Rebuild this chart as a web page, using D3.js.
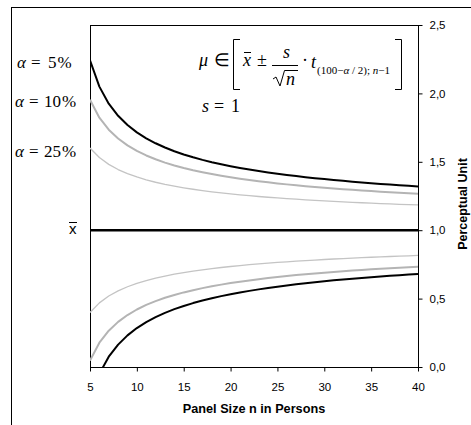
<!DOCTYPE html>
<html>
<head>
<meta charset="utf-8">
<script src="https://cdn.jsdelivr.net/npm/d3@7"></script>
<style>
  html, body { margin: 0; padding: 0; background: #fff; }
  svg { display: block; }
  .tick text { font-family: "Liberation Sans", Arial, sans-serif; font-size: 11.5px; fill: #000; }
  .tick line { stroke: #000; }
  .serif { font-family: "Liberation Serif", "Times New Roman", serif; fill: #000; }
</style>
</head>
<body>
<script>
// ---- data -------------------------------------------------------------
const panelSizes = [5,6,7,8,9,10,11,12,13,14,15,16,17,18,19,20,21,22,23,24,25,26,27,28,29,30,31,32,33,34,35,36,37,38,39,40];
// half-widths of the interval (s = 1) per panel size
const halfWidth5 = [1.2415,1.0496,0.9249,0.8362,0.7687,0.7153,0.6718,0.6354,0.6043,0.5773,0.5538,0.5328,0.5142,0.4973,0.4820,0.4680,0.4552,0.4435,0.4325,0.4223,0.4128,0.4040,0.3957,0.3878,0.3803,0.3734,0.3667,0.3606,0.3546,0.3490,0.3435,0.3383,0.3334,0.3287,0.3241,0.3199];
const halfWidth10 = [0.9535,0.8226,0.7344,0.6700,0.6200,0.5796,0.5463,0.5185,0.4942,0.4733,0.4547,0.4383,0.4235,0.4101,0.3978,0.3866,0.3764,0.3669,0.3580,0.3499,0.3422,0.3350,0.3283,0.3218,0.3159,0.3102,0.3048,0.2998,0.2949,0.2902,0.2858,0.2817,0.2775,0.2737,0.2700,0.2664];
const halfWidth25 = [0.6011,0.5311,0.4811,0.4434,0.4133,0.3890,0.3682,0.3505,0.3353,0.3218,0.3098,0.2993,0.2896,0.2807,0.2728,0.2654,0.2586,0.2522,0.2465,0.2409,0.2358,0.2310,0.2265,0.2222,0.2182,0.2143,0.2107,0.2072,0.2038,0.2008,0.1978,0.1948,0.1922,0.1895,0.1870,0.1845];
const meanValue = 1.0;
const xTicks = [5,10,15,20,25,30,35,40];
const yTicks = [0,0.5,1.0,1.5,2.0,2.5];
const xTitle = "Panel Size n in Persons";
const yTitle = "Perceptual Unit";
const alphaLabels = ["5", "10", "25"];

// ---- layout -----------------------------------------------------------
const W = 471, H = 425;
const plot = { left: 90, right: 418, top: 25, bottom: 367 };

const svg = d3.select("body").append("svg").attr("width", W).attr("height", H);

// outer border (runs off right and bottom edges)
svg.append("rect").attr("x", 11.5).attr("y", 7.5).attr("width", 600).attr("height", 600)
  .attr("fill", "none").attr("stroke", "#000").attr("stroke-width", 1);

const x = d3.scaleLinear().domain([5, 40]).range([plot.left, plot.right]);
const y = d3.scaleLinear().domain([0, 2.5]).range([plot.bottom, plot.top]);

svg.append("defs").append("clipPath").attr("id", "clip")
  .append("rect").attr("x", plot.left).attr("y", plot.top)
  .attr("width", plot.right - plot.left).attr("height", plot.bottom - plot.top);

// frame
svg.append("rect").attr("x", plot.left + 0.5).attr("y", plot.top + 0.5)
  .attr("width", plot.right - plot.left).attr("height", plot.bottom - plot.top)
  .attr("fill", "none").attr("stroke", "#000").attr("stroke-width", 1);

// axes
const fmt = d => d3.format(".1f")(d).replace(".", ",");
const yAxis = svg.append("g").attr("transform", `translate(${plot.right + 0.5},0)`)
  .call(d3.axisRight(y).tickValues(yTicks).tickSize(4).tickPadding(7).tickFormat(fmt));
yAxis.select(".domain").remove();
const xAxis = svg.append("g").attr("transform", `translate(0,${plot.bottom + 0.5})`)
  .call(d3.axisBottom(x).tickValues(xTicks).tickSizeInner(4).tickSizeOuter(0).tickPadding(11).tickFormat(d3.format("d")));
xAxis.select(".domain").remove();

// lines
const g = svg.append("g").attr("clip-path", "url(#clip)");
const line = d3.line().x(d => x(d[0])).y(d => y(d[1]));
function band(hw, color, width) {
  const up = panelSizes.map((n, i) => [n, meanValue + hw[i]]);
  const lo = panelSizes.map((n, i) => [n, meanValue - hw[i]]);
  [up, lo].forEach(pts => g.append("path").attr("d", line(pts))
    .attr("fill", "none").attr("stroke", color).attr("stroke-width", width)
    .attr("stroke-linejoin", "round"));
}
band(halfWidth25, "#c4c4c4", 1.3);
band(halfWidth10, "#b4b4b4", 2);
band(halfWidth5, "#000", 2);
g.append("path").attr("d", line(panelSizes.map(n => [n, meanValue])))
  .attr("fill", "none").attr("stroke", "#000").attr("stroke-width", 2.6);

// axis titles
svg.append("text").attr("x", (plot.left + plot.right) / 2).attr("y", 413)
  .attr("text-anchor", "middle").attr("font-family", "Liberation Sans, Arial, sans-serif")
  .attr("font-weight", "bold").attr("font-size", 12.7).text(xTitle);
svg.append("text").attr("transform", "translate(467,204) rotate(-90)")
  .attr("text-anchor", "middle").attr("font-family", "Liberation Sans, Arial, sans-serif")
  .attr("font-weight", "bold").attr("font-size", 12.5).text(yTitle);

// alpha labels
const alphaBase = [68, 107, 157];
alphaLabels.forEach((a, i) => {
  const t = svg.append("text").attr("class", "serif").attr("font-size", 17).attr("y", alphaBase[i]);
  const x0 = i === 0 ? 17 : 15;
  t.append("tspan").attr("x", x0).attr("font-style", "italic").text("α");
  t.append("tspan").attr("x", x0 + 14).text("=");
  t.append("tspan").attr("x", i === 0 ? 48 : 44).text(a);
  t.append("tspan").attr("dx", 1).text("%");
});
// x-bar label
svg.append("text").attr("x", 69).attr("y", 234).attr("font-family", "Liberation Sans, Arial, sans-serif")
  .attr("font-size", 15).text("x");
svg.append("line").attr("x1", 69).attr("x2", 77).attr("y1", 222.5).attr("y2", 222.5)
  .attr("stroke", "#000").attr("stroke-width", 1);

// formula
const F = svg.append("g").attr("class", "serif");
const ft = (xx, yy, size, txt, it) => F.append("text").attr("x", xx).attr("y", yy)
  .attr("font-size", size).attr("font-style", it ? "italic" : "normal").text(txt);
ft(199, 66, 18, "μ", true);
ft(214, 66, 18, "∈", false);
F.append("path").attr("d", "M240,39.5 H233.5 V89.5 H240").attr("fill", "none").attr("stroke", "#000");
ft(243, 66, 18, "x", true);
F.append("line").attr("x1", 244).attr("x2", 251).attr("y1", 52.5).attr("y2", 52.5).attr("stroke", "#000");
ft(257, 66, 18, "±", false);
ft(283, 58, 18, "s", true);
F.append("line").attr("x1", 272).attr("x2", 298).attr("y1", 65.5).attr("y2", 65.5).attr("stroke", "#000");
F.append("path").attr("d", "M273,79 L276,77 L280,86 L284.5,70.5 H298").attr("fill", "none").attr("stroke", "#000");
ft(286, 85, 18, "n", true);
ft(302, 66, 18, "·", false);
ft(311, 68, 18, "t", true);
const sb = F.append("text").attr("x", 317).attr("y", 74).attr("font-size", 11);
sb.append("tspan").text("(100−");
sb.append("tspan").attr("font-style", "italic").text("α");
sb.append("tspan").text(" / 2); ");
sb.append("tspan").attr("font-style", "italic").text("n");
sb.append("tspan").text("−1");
F.append("path").attr("d", "M395,39.5 H401.5 V89.5 H395").attr("fill", "none").attr("stroke", "#000");

// s = 1
const s1 = svg.append("text").attr("class", "serif").attr("font-size", 18).attr("y", 112);
s1.append("tspan").attr("x", 202).attr("font-style", "italic").text("s");
s1.append("tspan").attr("x", 214).text("=");
s1.append("tspan").attr("x", 231).text("1");
</script>
</body>
</html>
